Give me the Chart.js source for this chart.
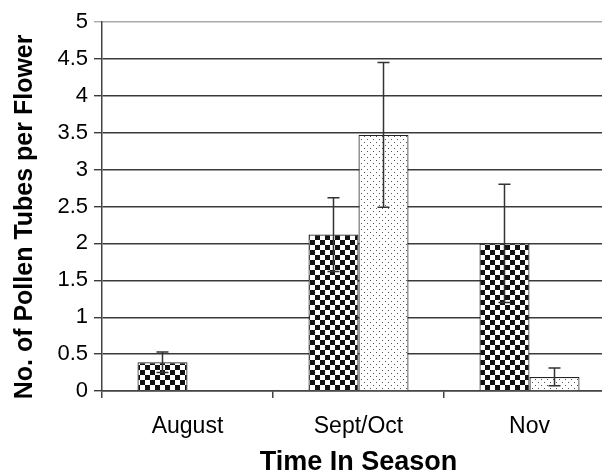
<!DOCTYPE html>
<html>
<head>
<meta charset="utf-8">
<script src="https://cdn.jsdelivr.net/npm/chart.js@4.4.1/dist/chart.umd.min.js"></script>
<style>
html,body{margin:0;padding:0;overflow:hidden;background:#fff;width:602px;height:473px;}
#wrap{position:absolute;left:0;top:0;width:620px;height:473px;}
</style>
</head>
<body>
<div id="wrap"><canvas id="c"></canvas></div>
<script>
const categories = ["August", "Sept/Oct", "Nov"];
const checkerValues = [0.39, 2.12, 2.0];
const checkerErrors = [0.14, 0.5, 0.8];
const dottedValues = [null, 3.47, 0.19];
const dottedErrors = [null, 0.98, 0.12];
const yTicks = [0, 0.5, 1, 1.5, 2, 2.5, 3, 3.5, 4, 4.5, 5];

function checkerPattern() {
  const c = document.createElement('canvas');
  c.width = 10; c.height = 10;
  const g = c.getContext('2d');
  g.fillStyle = '#fff'; g.fillRect(0, 0, 10, 10);
  g.fillStyle = '#111';
  g.fillRect(0, 0, 5, 5); g.fillRect(5, 5, 5, 5);
  return g.createPattern(c, 'repeat');
}
function dotPattern() {
  const c = document.createElement('canvas');
  c.width = 6; c.height = 6;
  const g = c.getContext('2d');
  g.fillStyle = '#fff'; g.fillRect(0, 0, 6, 6);
  g.fillStyle = '#555';
  g.fillRect(1, 1, 1, 1); g.fillRect(4, 4, 1, 1);
  return g.createPattern(c, 'repeat');
}

const errorBars = {
  id: 'errorBars',
  afterDatasetsDraw(chart) {
    const ctx = chart.ctx;
    const y = chart.scales.y;
    const errs = [checkerErrors, dottedErrors];
    ctx.save();
    ctx.strokeStyle = '#333';
    ctx.lineWidth = 1.5;
    chart.data.datasets.forEach((ds, i) => {
      const meta = chart.getDatasetMeta(i);
      meta.data.forEach((el, j) => {
        const v = ds.data[j], e = errs[i][j];
        if (v == null || e == null) return;
        const x = el.x;
        const yt = y.getPixelForValue(v + e);
        const yb = y.getPixelForValue(v - e);
        ctx.beginPath();
        ctx.moveTo(x, yt); ctx.lineTo(x, yb);
        ctx.moveTo(x - 6, yt); ctx.lineTo(x + 6, yt);
        ctx.moveTo(x - 6, yb); ctx.lineTo(x + 6, yb);
        ctx.stroke();
      });
    });
    ctx.restore();
  }
};

new Chart(document.getElementById('c'), {
  type: 'bar',
  data: {
    labels: categories,
    datasets: [
      { data: checkerValues, backgroundColor: checkerPattern(), borderColor: '#222', borderWidth: 1.2 },
      { data: dottedValues, backgroundColor: dotPattern(), borderColor: '#222', borderWidth: 1.2 }
    ]
  },
  options: {
    responsive: true,
    maintainAspectRatio: false,
    animation: false,
    datasets: { bar: { categoryPercentage: 0.585, barPercentage: 1 } },
    layout: { padding: { left: 0, right: 5, top: 22, bottom: 0 } },
    plugins: { legend: { display: false }, tooltip: { enabled: false } },
    scales: {
      x: {
        afterFit(s) { s.height = 82; },
        grid: { display: true, drawOnChartArea: false, drawTicks: true, tickLength: 7, color: '#444', lineWidth: 1.5, offset: true },
        border: { display: true, color: '#444', width: 1.5 },
        ticks: { color: '#000', font: { family: 'Liberation Sans', size: 23 }, padding: 15 },
        title: { display: true, text: 'Time In Season', color: '#000', font: { family: 'Liberation Sans', size: 27, weight: 'bold', lineHeight: 0.8 }, padding: { top: 0, bottom: 0 } }
      },
      y: {
        min: 0, max: 5,
        afterFit(s) { s.width = 102; },
        afterBuildTicks(s) { s.ticks = yTicks.map(v => ({ value: v })); },
        grid: { color: (c) => (c.tick && c.tick.value === 5) ? '#aaa' : '#3a3a3a', lineWidth: 1.4, tickLength: 8 },
        border: { display: true, color: '#444', width: 1.5 },
        ticks: { color: '#000', font: { family: 'Liberation Sans', size: 22 }, padding: 6, callback: (v) => String(v) },
        title: { display: true, text: 'No. of Pollen Tubes per Flower   ', color: '#000', font: { family: 'Liberation Sans', size: 25, weight: 'bold', lineHeight: 1.2 }, padding: { top: 10, bottom: 0 } }
      }
    }
  },
  plugins: [errorBars]
});
</script>
</body>
</html>
